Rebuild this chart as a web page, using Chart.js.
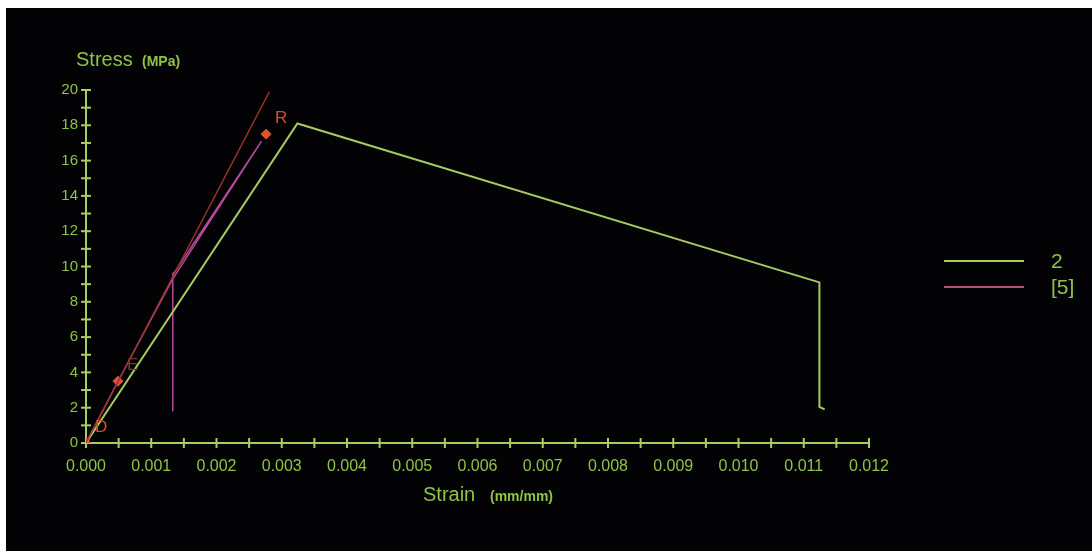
<!DOCTYPE html>
<html>
<head>
<meta charset="utf-8">
<script src="https://cdn.jsdelivr.net/npm/chart.js@4.4.0/dist/chart.umd.min.js"></script>
<style>
  html, body { margin: 0; padding: 0; background: #ffffff; }
  #wrap { position: absolute; left: 6px; top: 8px; width: 1086px; height: 543px; background: #030306; }
</style>
</head>
<body>
<div id="wrap"><canvas id="stressChart" width="1086" height="543"></canvas></div>
<script>
// specimen 2
var strain2 = [0, 0.00324, 0.01124, 0.01124, 0.01132];
var stress2 = [0, 18.1, 9.1, 2.05, 1.9];
// reference curve [5]
var strain5 = [0, 0.00049, 0.00133, 0.00269, 0.00136, 0.00133, 0.00133];
var stress5 = [0, 3.5, 9.3, 17.1, 9.7, 9.6, 1.8];
// modulus line
var strainRef = [0, 0.00281];
var stressRef = [0, 19.9];
// marked points
var markerNames = ['D', 'E', 'R'];
var markerStrain = [0, 0.00049, 0.00276];
var markerStress = [0, 3.5, 17.5];

var legendNames = ['2', '[5]'];
var xTickLabels = ['0.000', '0.001', '0.002', '0.003', '0.004', '0.005', '0.006',
                   '0.007', '0.008', '0.009', '0.010', '0.011', '0.012'];
var yTickLabels = ['0', '2', '4', '6', '8', '10', '12', '14', '16', '18', '20'];

var GREEN = '#a6cc60';
var MAGENTA = '#b8489e';
var TEXT = '#8ec343';
var AXIS = '#a8cf5e';

function pts(xs, ys) {
    return xs.map(function (x, i) { return { x: x, y: ys[i] }; });
}

// ticks that cross the axis line
var crossTicks = {
    id: 'crossTicks',
    beforeDatasetsDraw: function (chart) {
        var ctx = chart.ctx, area = chart.chartArea;
        ctx.save();
        ctx.strokeStyle = AXIS;
        ctx.lineWidth = 2;
        chart.scales.x.ticks.forEach(function (t) {
            var px = chart.scales.x.getPixelForValue(t.value);
            ctx.beginPath();
            ctx.moveTo(px, area.bottom - 5);
            ctx.lineTo(px, area.bottom + 5);
            ctx.stroke();
        });
        chart.scales.y.ticks.forEach(function (t) {
            var py = chart.scales.y.getPixelForValue(t.value);
            ctx.beginPath();
            ctx.moveTo(area.left - 5, py);
            ctx.lineTo(area.left + 5, py);
            ctx.stroke();
        });
        ctx.restore();
    }
};

// titles, point letters and the legend
var extras = {
    id: 'extras',
    afterDatasetsDraw: function (chart) {
        var ctx = chart.ctx, area = chart.chartArea;
        ctx.save();
        ctx.fillStyle = TEXT;
        ctx.textBaseline = 'alphabetic';
        ctx.textAlign = 'left';
        ctx.font = '20px "Liberation Sans", Arial, sans-serif';
        ctx.fillText('Stress', area.left - 10, 58);
        ctx.font = 'bold 14px "Liberation Sans", Arial, sans-serif';
        ctx.fillText('(MPa)', area.left + 56, 58);
        ctx.font = '20px "Liberation Sans", Arial, sans-serif';
        ctx.fillText('Strain', 417, area.bottom + 58);
        ctx.font = 'bold 14px "Liberation Sans", Arial, sans-serif';
        ctx.fillText('(mm/mm)', 484, area.bottom + 58);

        // letters next to the marked points
        var meta = chart.getDatasetMeta(3);
        ctx.font = '17px "Liberation Sans", Arial, sans-serif';
        ctx.textBaseline = 'middle';
        meta.data.forEach(function (p, i) {
            ctx.fillStyle = i === 1 ? '#7a3a22' : '#d0502c';
            ctx.fillText(markerNames[i], p.x + 9, p.y - 16);
        });

        // legend
        var cols = [GREEN, '#b0507e'];
        legendNames.forEach(function (name, i) {
            var y = 253 + i * 26;
            ctx.strokeStyle = cols[i];
            ctx.lineWidth = 2;
            ctx.beginPath();
            ctx.moveTo(938, y);
            ctx.lineTo(1018, y);
            ctx.stroke();
            ctx.fillStyle = TEXT;
            ctx.font = '21px "Liberation Sans", Arial, sans-serif';
            ctx.fillText(name, 1045, y + 1);
        });
        ctx.restore();
    }
};

var ctx = document.getElementById('stressChart').getContext('2d');
var stressChart = new Chart(ctx, {
    type: 'scatter',
    data: {
        datasets: [{
            label: 'modulus',
            data: pts(strainRef, stressRef),
            showLine: true,
            borderColor: '#9a3428',
            borderWidth: 1.5,
            pointRadius: 0
        }, {
            label: legendNames[0],
            data: pts(strain2, stress2),
            showLine: true,
            borderColor: GREEN,
            borderWidth: 2,
            pointRadius: 0
        }, {
            label: legendNames[1],
            data: pts(strain5, stress5),
            showLine: true,
            borderColor: MAGENTA,
            borderWidth: 1.5,
            pointRadius: 0
        }, {
            label: 'points',
            data: pts(markerStrain, markerStress),
            showLine: false,
            pointStyle: 'rectRot',
            pointRadius: 5,
            backgroundColor: '#e0522a',
            borderColor: '#e0522a',
            borderWidth: 1
        }]
    },
    options: {
        responsive: false,
        animation: false,
        devicePixelRatio: 1,
        layout: { padding: { left: 0, top: 82, right: 223, bottom: 68 } },
        plugins: {
            legend: { display: false },
            tooltip: { enabled: false }
        },
        scales: {
            x: {
                type: 'linear',
                min: 0,
                max: 0.012,
                grid: { display: false, drawTicks: false },
                border: { display: true, color: AXIS, width: 2 },
                ticks: {
                    stepSize: 0.0005,
                    autoSkip: false,
                    maxRotation: 0,
                    padding: 14,
                    color: TEXT,
                    font: { family: '"Liberation Sans", Arial, sans-serif', size: 16 },
                    callback: function (value) {
                        var i = Math.round(value * 2000);
                        return i % 2 === 0 ? xTickLabels[i / 2] : '';
                    }
                },
                afterFit: function (scale) { scale.height = 40; }
            },
            y: {
                min: 0,
                max: 20,
                grid: { display: false, drawTicks: false },
                border: { display: true, color: AXIS, width: 2 },
                ticks: {
                    stepSize: 1,
                    autoSkip: false,
                    padding: 8,
                    color: TEXT,
                    font: { family: '"Liberation Sans", Arial, sans-serif', size: 15 },
                    callback: function (value) {
                        var i = Math.round(value);
                        return i % 2 === 0 ? yTickLabels[i / 2] : '';
                    }
                },
                afterFit: function (scale) { scale.width = 80; }
            }
        }
    },
    plugins: [crossTicks, extras]
});
</script>
</body>
</html>
